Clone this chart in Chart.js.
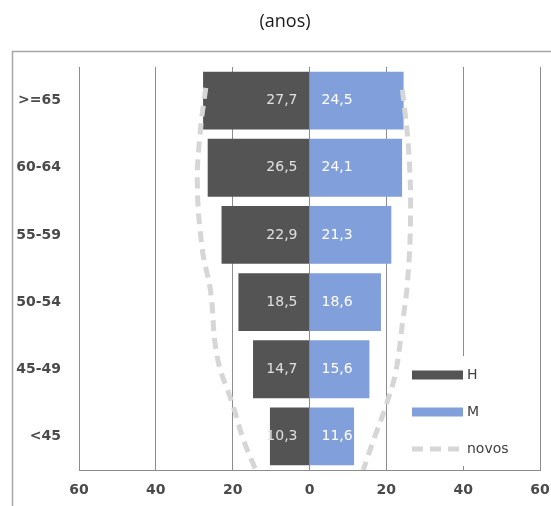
<!DOCTYPE html>
<html>
<head>
<meta charset="utf-8">
<script src="https://cdn.jsdelivr.net/npm/chart.js@4"></script>
<style>
    html, body { margin: 0; padding: 0; background: #fff; }
    #wrap { position: relative; width: 551px; height: 506px; }
</style>
</head>
<body>
<div id="wrap"><canvas id="chart" width="551" height="506"></canvas></div>
<script>
// data
const categories = ['>=65', '60-64', '55-59', '50-54', '45-49', '<45'];
const homens = [27.7, 26.5, 22.9, 18.5, 14.7, 10.3];
const mulheres = [24.5, 24.1, 21.3, 18.6, 15.6, 11.6];
const xTicks = [-60, -40, -20, 0, 20, 40, 60];
// dashed "novos" outline, left side then right side (null = gap)
const novosX = [-27, -28.4, -29.2, -27.9, -25.8, -24, -19.8, -17.2, -14, null,
                24.2, 25.8, 26.3, 25.5, 24.2, 22.4, 19.8, 16.7, 14];
const novosY = [-0.19, 0.44, 1.23, 2.22, 2.82, 3.82, 4.56, 5.05, 5.5, null,
                -0.16, 0.73, 1.73, 2.71, 3.31, 4.05, 4.56, 5.05, 5.5];

const corH = '#545454';
const corM = '#819fdb';
const corNovos = '#d6d6d6';
const fonte = '"DejaVu Sans", sans-serif';

// bar value labels, written near the zero line
const valueLabels = {
    id: 'valueLabels',
    afterDatasetsDraw(chart) {
        const ctx = chart.ctx;
        const x0 = chart.scales.x.getPixelForValue(0);
        ctx.save();
        ctx.font = '14px ' + fonte;
        ctx.textBaseline = 'middle';
        chart.getDatasetMeta(1).data.forEach((bar, i) => {
            ctx.fillStyle = '#e0e0e0';
            ctx.textAlign = 'right';
            ctx.fillText(homens[i].toFixed(1).replace('.', ','), x0 - 12, bar.y);
        });
        chart.getDatasetMeta(2).data.forEach((bar, i) => {
            ctx.fillStyle = '#ffffff';
            ctx.textAlign = 'left';
            ctx.fillText(mulheres[i].toFixed(1).replace('.', ','), x0 + 12, bar.y);
        });
        ctx.restore();
    }
};

// frame, title and the boxed legend
const decor = {
    id: 'decor',
    beforeDraw(chart) {
        const ctx = chart.ctx;
        ctx.save();
        ctx.strokeStyle = '#a6a6a6';
        ctx.lineWidth = 1.5;
        ctx.strokeRect(12.5, 51.5, 600, 600);
        ctx.fillStyle = '#1a1a1a';
        ctx.font = '18px "Open Sans", sans-serif';
        ctx.textAlign = 'center';
        ctx.textBaseline = 'middle';
        ctx.fillText('(anos)', 285, 22);
        ctx.restore();
    },
    afterDraw(chart) {
        const ctx = chart.ctx;
        ctx.save();
        ctx.fillStyle = '#ffffff';
        ctx.fillRect(407, 356, 124, 110);
        ctx.font = '14px ' + fonte;
        ctx.textBaseline = 'middle';
        ctx.textAlign = 'left';
        const items = chart.data.datasets.slice(1).concat(chart.data.datasets[0]);
        const ys = [375, 412, 449];
        items.forEach((ds, i) => {
            const y = ys[i];
            if (ds.type === 'line') {
                ctx.strokeStyle = ds.borderColor;
                ctx.lineWidth = 5;
                ctx.setLineDash([11, 7]);
                ctx.beginPath();
                ctx.moveTo(412, y);
                ctx.lineTo(464, y);
                ctx.stroke();
                ctx.setLineDash([]);
            } else {
                ctx.fillStyle = ds.backgroundColor;
                ctx.fillRect(412, y - 4.5, 51, 9);
            }
            ctx.fillStyle = '#404040';
            ctx.fillText(ds.label, 467, y);
        });
        ctx.restore();
    }
};

new Chart(document.getElementById('chart'), {
    data: {
        labels: categories,
        datasets: [{
            type: 'line',
            label: 'novos',
            data: novosX.map((x, i) => ({ x: x, y: novosY[i] })),
            yAxisID: 'yn',
            borderColor: corNovos,
            borderWidth: 5,
            borderDash: [11, 7],
            pointRadius: 0,
            tension: 0.4,
            spanGaps: false,
            order: -1
        }, {
            type: 'bar',
            label: 'H',
            data: homens.map(v => -v),
            backgroundColor: corH,
            grouped: false,
            categoryPercentage: 1,
            barPercentage: 0.86
        }, {
            type: 'bar',
            label: 'M',
            data: mulheres,
            backgroundColor: corM,
            grouped: false,
            categoryPercentage: 1,
            barPercentage: 0.86
        }]
    },
    options: {
        indexAxis: 'y',
        responsive: false,
        animation: false,
        layout: { padding: { top: 67, right: 11, left: 0, bottom: 0 } },
        plugins: {
            legend: { display: false },
            tooltip: { enabled: false },
            title: { display: false }
        },
        scales: {
            x: {
                type: 'linear',
                min: -60,
                max: 60,
                afterBuildTicks(scale) {
                    scale.ticks = xTicks.map(v => ({ value: v }));
                },
                afterFit(scale) {
                    scale.height = 36;
                    scale.paddingLeft = 0;
                    scale.paddingRight = 0;
                },
                grid: { color: '#8c8c8c', lineWidth: 1, drawTicks: false },
                border: { color: '#8c8c8c' },
                ticks: {
                    padding: 12,
                    color: '#4a4a4a',
                    font: { family: fonte, size: 14, weight: 'bold' },
                    callback: v => String(Math.abs(v))
                }
            },
            y: {
                type: 'category',
                afterFit(scale) { scale.width = 79; },
                grid: { display: false },
                border: { display: false },
                ticks: {
                    padding: 10,
                    color: '#4a4a4a',
                    font: { family: fonte, size: 14, weight: 'bold' }
                }
            },
            yn: {
                type: 'linear',
                display: false,
                min: -0.5,
                max: 5.5,
                reverse: true
            }
        }
    },
    plugins: [decor, valueLabels]
});
</script>
</body>
</html>
